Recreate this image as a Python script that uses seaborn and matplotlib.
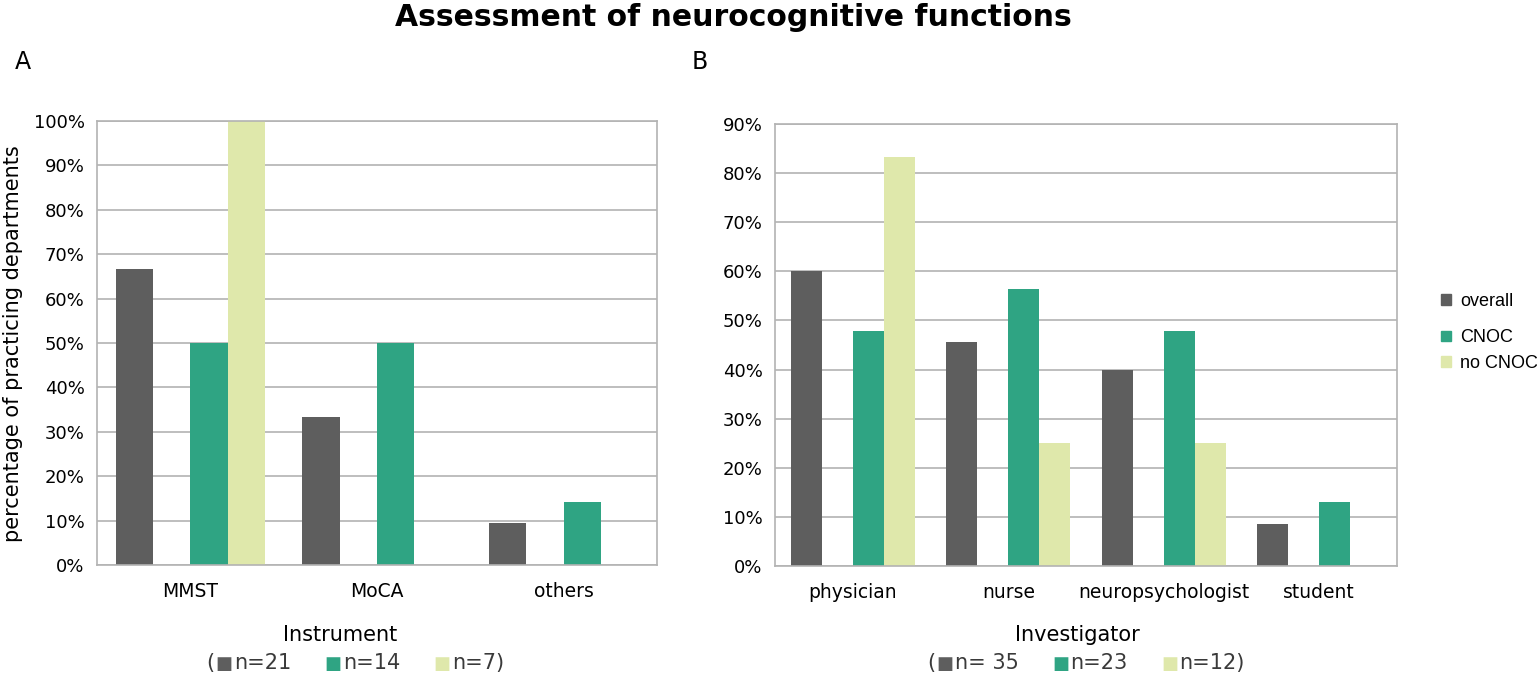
import numpy as np
import pandas as pd
import matplotlib
matplotlib.use('Agg')
import matplotlib.pyplot as plt
import seaborn as sns
from matplotlib.patches import Patch
from matplotlib.ticker import FixedLocator, FuncFormatter
from matplotlib.offsetbox import TextArea, HPacker, AnchoredOffsetbox

# series order, with an empty slot between overall and CNOC as in the original chart
groups = ['overall', 'gap', 'CNOC', 'no CNOC']
colors = {'overall': '#5e5e5e', 'gap': '#ffffff', 'CNOC': '#2fa483', 'no CNOC': '#dfe8ab'}

# panel A: instruments (percent of practicing departments)
instruments = ['MMST', 'MoCA', 'others']
instr_overall = [66.7, 33.3, 9.5]
instr_cnoc = [50.0, 50.0, 14.3]
instr_no_cnoc = [100.0, 0.0, 0.0]
instr_n = ['n=21', 'n=14', 'n=7']

# panel B: investigators
investigators = ['physician', 'nurse', 'neuropsychologist', 'student']
inv_overall = [60.0, 45.7, 40.0, 8.6]
inv_cnoc = [47.8, 56.5, 47.8, 13.0]
inv_no_cnoc = [83.3, 25.0, 25.0, 0.0]
inv_n = ['n= 35', 'n=23', 'n=12']

GRID = '#b3b3b3'
W, H = 1537, 681


def long_table(cats, overall, cnoc, no_cnoc):
    """
    Build the long table seaborn wants from the three series
    """
    rows = []
    for i, c in enumerate(cats):
        rows.append((c, 'overall', overall[i]))
        rows.append((c, 'gap', 0.0))
        rows.append((c, 'CNOC', cnoc[i]))
        rows.append((c, 'no CNOC', no_cnoc[i]))
    return pd.DataFrame(rows, columns=['category', 'group', 'value'])


def draw_panel(ax, df, cats, ymax):
    sns.barplot(data=df, x='category', y='value', hue='group', hue_order=groups,
                order=cats, palette=colors, saturation=1, errorbar=None,
                width=0.8, linewidth=0, legend=False, ax=ax)
    ax.set_xlim(-0.5, len(cats) - 0.5)
    ax.set_ylim(0, ymax)
    ax.set_yticks(np.arange(0, ymax + 1, 10))
    ax.yaxis.set_major_formatter(FuncFormatter(lambda v, p: '%d%%' % v))
    ax.yaxis.grid(True, color=GRID, lw=1.2)
    ax.xaxis.grid(False)
    ax.set_axisbelow(True)
    for s in ax.spines.values():
        s.set_visible(True)
        s.set_color(GRID)
        s.set_linewidth(1.2)
    ax.tick_params(axis='y', length=6, width=1.2, color=GRID, labelcolor='black', labelsize=13, pad=3)
    ax.tick_params(axis='x', which='major', length=0, labelcolor='black', labelsize=13.5, pad=12)
    ax.xaxis.set_minor_locator(FixedLocator(np.arange(-0.5, len(cats), 1.0)))
    ax.tick_params(axis='x', which='minor', length=7, width=1.2, color=GRID)
    ax.set_xlabel('')
    ax.set_ylabel('')


def n_line(fig, labels, cx, cy):
    parts = [TextArea('(', textprops=dict(fontsize=15, color='#3a3a3a'))]
    for i, lab in enumerate(labels):
        g = ['overall', 'CNOC', 'no CNOC'][i]
        parts.append(TextArea('■', textprops=dict(fontsize=13, color=colors[g])))
        txt = lab + (')' if i == len(labels) - 1 else '')
        parts.append(TextArea(txt, textprops=dict(fontsize=15, color='#3a3a3a')))
    # wider gaps between the entries
    box = HPacker(children=[HPacker(children=parts[0:3], align='baseline', pad=0, sep=1),
                            HPacker(children=parts[3:5], align='baseline', pad=0, sep=1),
                            HPacker(children=parts[5:7], align='baseline', pad=0, sep=1)],
                  align='baseline', pad=0, sep=24)
    anch = AnchoredOffsetbox(loc='center', child=box, frameon=False, pad=0, borderpad=0,
                             bbox_to_anchor=(cx / W, 1 - cy / H), bbox_transform=fig.transFigure)
    fig.add_artist(anch)


sns.set_theme(style='white')
plt.rcParams['font.family'] = ['DejaVu Sans']
plt.rcParams['text.color'] = 'black'

fig = plt.figure(figsize=(W / 100, H / 100), dpi=100)
ax_a = fig.add_axes([97 / W, 1 - 565 / H, (657 - 97) / W, (565 - 121) / H])
ax_b = fig.add_axes([775 / W, 1 - 566 / H, (1397 - 775) / W, (566 - 124) / H])

draw_panel(ax_a, long_table(instruments, instr_overall, instr_cnoc, instr_no_cnoc), instruments, 100)
draw_panel(ax_b, long_table(investigators, inv_overall, inv_cnoc, inv_no_cnoc), investigators, 90)

fig.text(733 / W, 1 - 18 / H, 'Assessment of neurocognitive functions', ha='center', va='center',
         fontsize=21.5, fontweight='bold')
fig.text(15 / W, 1 - 62 / H, 'A', ha='left', va='center', fontsize=17)
fig.text(692 / W, 1 - 62 / H, 'B', ha='left', va='center', fontsize=17)
fig.text(13 / W, 1 - 344 / H, 'percentage of practicing departments', rotation=90,
         ha='center', va='center', fontsize=15)

fig.text(340 / W, 1 - 635 / H, 'Instrument', ha='center', va='center', fontsize=15)
fig.text(1077 / W, 1 - 635 / H, 'Investigator', ha='center', va='center', fontsize=15)
n_line(fig, instr_n, 355, 663)
n_line(fig, inv_n, 1086, 663)

# legend on the right, with the small gap after "overall"
lkw = dict(frameon=False, handlelength=0.55, handleheight=0.55, handletextpad=0.5,
           borderpad=0, borderaxespad=0, labelspacing=0.45, labelcolor='black',
           prop={'family': 'Liberation Sans', 'size': 13})
fig.legend(handles=[Patch(color=colors['overall'], label='overall')], loc='center left',
           bbox_to_anchor=(1441 / W, 1 - 301 / H), **lkw)
fig.legend(handles=[Patch(color=colors['CNOC'], label='CNOC'),
                    Patch(color=colors['no CNOC'], label='no CNOC')], loc='center left',
           bbox_to_anchor=(1441 / W, 1 - 350.5 / H), **lkw)

fig.savefig('out.png', dpi=100)
